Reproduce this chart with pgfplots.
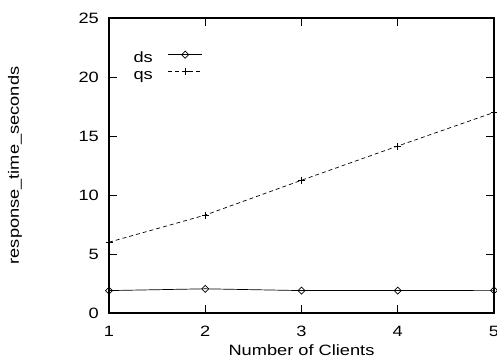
\documentclass[border=0pt]{standalone}
\usepackage{fontspec}
\setmainfont{Liberation Sans}[FakeStretch=1.22]
\usepackage{pgfplots}
\pgfplotsset{compat=1.18}

\begin{document}
\fontsize{15}{18}\selectfont
\begin{tikzpicture}
\begin{axis}[
  name=ax,
  scale only axis,
  width=385bp, height=295bp,
  xmin=1, xmax=5, ymin=0, ymax=25,
  xtick={1,2,3,4,5}, ytick={0,5,10,15,20,25},
  tick align=inside,
  major tick length=8bp,
  tick style={black, line width=0.8pt},
  axis line style={black, line width=1.1pt},
  /pgf/number format/assume math mode=true,
  xticklabel style={yshift=-8bp},
  yticklabel style={xshift=-5bp},
  xlabel={Number of Clients},
  ylabel={response\_time\_seconds},
  xlabel style={at={(axis description cs:0.5,-0.1424)}, anchor=base},
  ylabel style={at={(axis description cs:-0.244,0.5)}, anchor=center},
  clip=false,
  legend cell align=right,
  legend plot pos=right,
  legend style={draw=none, fill=none, inner sep=0pt, outer sep=0pt,
    at={(axis description cs:0.0639,0.8875)}, anchor=north west,
    nodes={inner sep=0pt, text height=0.75em, text depth=0.25em},
    row sep=2bp, column sep=15bp},
  legend image code/.code={%
    \draw[mark repeat=2, mark phase=2, #1]
      plot coordinates {(0bp,4bp) (17bp,4bp) (34bp,4bp)};},
]
\addplot[black, line width=0.7pt, mark=square, mark size=2.5bp,
  mark options={rotate=45, solid, line width=0.7pt}]
  coordinates {(1,1.9) (2,2.05) (3,1.9) (4,1.9) (5,1.92)};
\addlegendentry{ds}
\addplot[black, line width=0.7pt, dash pattern=on 4bp off 3bp, mark=+, mark size=3.5bp,
  mark options={solid, line width=0.7pt}]
  coordinates {(1,6.0) (2,8.3) (3,11.25) (4,14.15) (5,17.0)};
\addlegendentry{qs}
\end{axis}
\pgfresetboundingbox
\path[use as bounding box] ([xshift=-109bp,yshift=-43bp]ax.south west)
  rectangle ([xshift=3bp,yshift=18bp]ax.north east);
\end{tikzpicture}
\end{document}
